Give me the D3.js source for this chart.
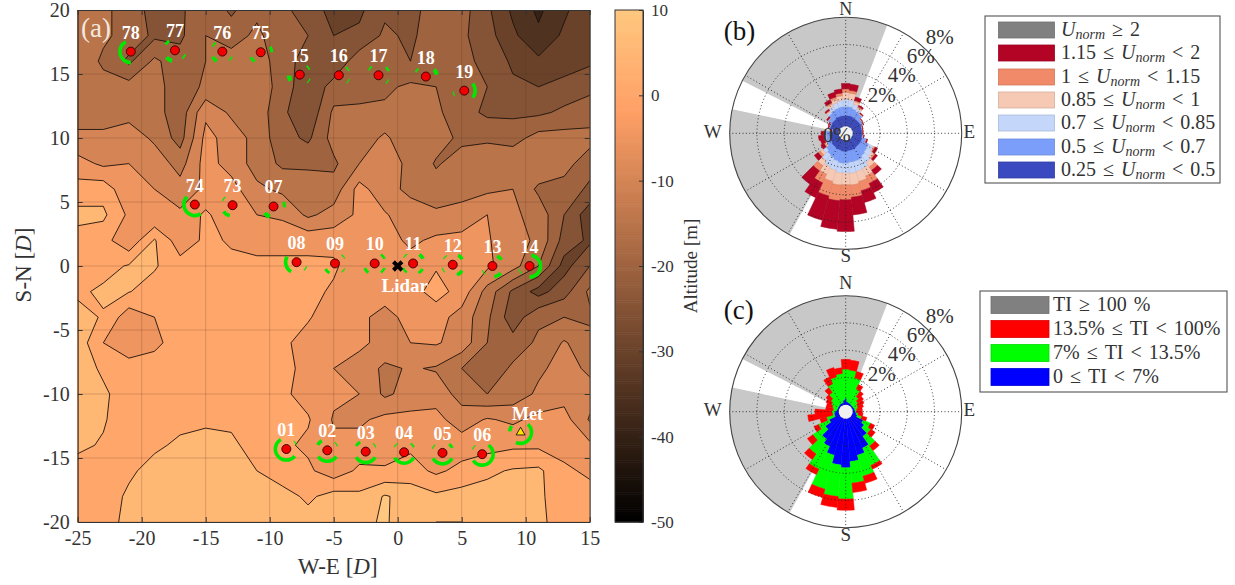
<!DOCTYPE html>
<html><head><meta charset="utf-8">
<script src="https://cdnjs.cloudflare.com/ajax/libs/d3/7.8.5/d3.min.js"></script>
<style>
html,body{margin:0;padding:0;background:#fff}
text{font-family:"Liberation Serif",serif;fill:#333}
</style></head><body>
<svg id="c" width="1235" height="585"></svg>
<script>
// ---------- terrain altitude (m), rows y = 20..-20 step 2, columns x = -25..15 step 2
const altitude = [
[-13,-14,-17,-22,-21,-16,-21,-16,-19,-22,-27,-26,-21,-22,-17,-18,-24,-31,-36,-31,-26],
[-12,-14,-17,-21,-21,-15,-17,-14,-18,-20,-25,-24,-19,-21,-17,-19,-23,-29,-34,-29,-26],
[-11,-16,-21,-14,-18,-15,-13,-13,-17,-23,-24,-17,-16,-20,-17,-19,-21,-26,-29,-28,-26],
[-15,-13,-13,-13,-18,-14,-12,-12,-17,-24,-18,-17,-16,-14,-15,-19,-20,-24,-25,-23,-21],
[-12,-12,-12,-13,-18,-6,-11,-12,-19,-24,-14,-14,-14,-13,-14,-18,-21,-21,-21,-19,-18],
[-9,-9,-7,-11,-17,-3.5,-7,-12,-18,-21,-13,-13,-9,-14,-13,-16,-16,-17,-13,-13,-13],
[-3,-6,-5,-7,-12,-3,-7,-12,-16,-16,-16,-10,-8,-11,-15.5,-13,-11,-11,-11,-13,-18],
[2,3,-4,-5,-8,-4,-3,-9,-11,-12,-13,-3,-8.5,-11,-13,-11,-11,-10,-16,-17,-21],
[6.5,6,-1,-5,-4,1,-4,-5,-6,-11,-8,-4,-4.5,-8,-9,-9,-5,-9,-12,-20,-28],
[3,2,-4,5.5,-3,1,-0.5,-1.5,-1.5,-1.5,-2,-3,-3,-6,-4,-3,-4.5,-8,-11,-22,-26],
[1,3,5.5,5.5,2,1,1,1,1,1,1,-4,-3,-3,-0.5,-2,-4,-8,-15,-27,-20],
[4,6,5.2,3,2,1,1,1,1,2,-1,-2,-3,-2,2,-2,-12,-21,-27,-22,-14],
[7,4.5,-3,0,2,1,1,1,1,0.5,-3,-4,-6.5,-3.5,-3,-7,-14,-23,-16,-15,-16],
[8,0,-3,-1,2,1,1,1,1,-2,-4,-4,-6.5,-5,-4.5,-7,-15,-18,-14,-9.5,-13],
[8,4,2,2,2,1,1,1,1,-1,-5,-7,-11,-9.5,-10.5,-15,-19,-14,-11,-8,-11],
[8,6,2,2,2,1,1,1,1,-2,-4,-5,-11,-8,-7,-12,-15,-13,-9,-7,-8],
[8,5.5,2,2,3.5,4,4,1,1,0.5,-5.5,-6,-3.5,-3.5,-3.5,-7.5,-4.5,-6,-3.5,-3,-10.5],
[6,4.5,2,4,6,7,6,3,1,-1,-4,-3,-2,-1,-3,-2.5,-2,-1,-1,-2,-4],
[3,3,4,7,8,8,8,5,2,1,-3,1,0.5,2,-1,1.5,4,5.5,6,1,-1],
[2,2,6,8,8,8,8,5.5,7,4,7,6,10.5,8,6,7,7,7,6,2,2],
[2,2,7,8,8,8,8,8,8,7,7,8,11,5,10,10,7,7,6,3,2]];
const contourLevels = d3.range(-40, 15, 5);
const xTicksMap = [-25,-20,-15,-10,-5,0,5,10,15];
const yTicksMap = [-20,-15,-10,-5,0,5,10,15,20];
const cbTicks = [-50,-40,-30,-20,-10,0,10];

// ---------- turbines: id, x, y [D]
const turbineIds = ["78","77","76","75","15","16","17","18","19","74","73","07","08","09","10","11","12","13","14","01","02","03","04","05","06"];
const turbineX = [-20.85,-17.4,-13.7,-10.7,-7.65,-4.6,-1.5,2.2,5.2,-15.85,-12.9,-9.7,-7.9,-4.9,-1.8,1.2,4.3,7.4,10.3,-8.7,-5.5,-2.5,0.5,3.5,6.6];
const turbineY = [16.75,16.85,16.75,16.7,14.95,14.9,14.9,14.8,13.7,4.8,4.75,4.65,0.3,0.2,0.2,0.2,0.1,0,0,-14.3,-14.4,-14.5,-14.55,-14.6,-14.7];
// green arcs per turbine: [bearing from, bearing to, width]
const turbineArcs = [
 [[180,333,3]],
 [[307,323,2.5],[200,226,3.5],[117,133,1.5]],
 [[302,318,1.5],[215,237,3],[122,138,1.5]],
 [[65,85,2.5],[218,238,2.5]],
 [[42,58,1.5],[242,260,3.5],[117,133,1]],
 [[45,61,1.5],[114,130,1]],
 [[302,318,1.5],[47,63,2],[117,133,1]],
 [[297,313,1.5],[55,75,3.5]],
 [[50,130,3],[245,260,1]],
 [[148,315,3]],
 [[297,313,1],[195,235,3]],
 [[70,90,2.5],[205,228,3.5]],
 [[210,300,3],[117,133,1]],
 [[215,235,2.5],[122,138,1],[42,58,1]],
 [[220,240,2.5],[120,140,2],[40,60,2]],
 [[125,145,2.5],[220,240,2],[40,60,3],[307,323,1]],
 [[128,152,3],[232,248,1],[35,55,3],[307,323,1]],
 [[130,170,3],[227,243,1],[25,55,3]],
 [[10,180,3],[232,248,1]],
 [[130,330,3],[47,63,1]],
 [[125,235,3],[305,325,3],[47,63,1]],
 [[120,240,3],[305,325,2.5],[47,63,1]],
 [[120,240,3],[302,318,1],[42,58,1.5]],
 [[120,240,3],[297,313,1],[42,58,2.5]],
 [[35,235,3],[302,318,1]]];
const metPos = [9.6,-13];
const metArcs = [[42,205,3],[280,300,3]];
const lidarPos = [0,0];

// ---------- wind roses: bins every 10 degrees, values in %
const bearings = d3.range(0,360,10);
const uDark  = [.8,.8,.8,.75,.75,.75,.75,.7,.7,.7,.7,.75,.75,.75,.75,.8,.8,.8,.85,.85,.8,.8,.75,.75,.7,.7,.7,.7,.5,.7,.7,.75,.75,.8,.8,.8];
const uMid   = [.65,.65,.55,.5,.45,.2,.15,.07,.04,.02,.1,.3,.6,.65,.75,.85,.85,.85,.86,.86,.8,.7,.65,.5,.35,.3,.25,.25,.02,.07,.12,.3,.5,.55,.6,.65];
const uLight = [.55,.5,.35,.2,.0,.0,.0,.0,.0,.0,.0,.0,.35,.45,.6,.7,.75,.8,.7,.7,.7,.7,.55,.3,.0,.0,.0,.0,.0,.0,.0,.0,.15,.3,.4,.45];
const uPink  = [.5,.5,.2,.1,.05,.02,.02,.01,.01,.01,.02,.03,.1,.2,.4,.6,.75,.85,.86,.9,.85,.6,.45,.2,.1,.05,.05,.02,.01,.01,.02,.03,.1,.2,.3,.35];
const uSalmon= [.25,.2,.1,.1,.02,.02,.01,.01,.01,.01,.01,.01,.07,.1,.3,.6,.7,.9,1.1,1.15,1.1,.7,.45,.2,.1,.05,.05,.02,.01,.01,.01,.02,.05,.1,.15,.2];
const uRed   = [.4,.45,.25,.1,.05,.02,.02,.01,.01,.01,.02,.07,.2,.18,.4,.75,.9,1.3,2.33,2.1,1.85,1.2,1.2,.35,.25,.3,.45,.3,.06,.06,.06,.1,.1,.25,.35,.3];
const tiBlue = [.47,.22,.17,.17,.12,.12,.12,.17,.17,.22,.27,.37,.91,1.15,1.69,2.43,2.79,3.16,3.6,3.41,2.79,2.3,1.94,1.32,.83,.34,.34,.27,.17,.12,.12,.12,.17,.17,.17,.34];
const tiGreen= [2.15,2.33,1.89,1.15,.71,.47,.35,.25,.15,.07,.15,.34,.59,.59,.86,1.42,1.6,1.59,2.3,2.33,2.58,1.84,1.34,1.11,.86,.62,.13,.24,.25,.39,.54,.71,1.03,1.57,1.96,1.96];
const tiRed  = [.71,.73,.49,.37,.49,.49,.49,.41,.39,.42,.34,.39,.34,.39,.42,.29,.54,.69,.82,.8,.63,.44,.49,.49,.37,.49,1.81,1.23,.54,.45,.42,.42,.44,.56,.71,.42];
const blockedSectors = [[297,381],[209,282]];
const ringValues = [2,4,6,8];
const spokeBearings = d3.range(0,360,30);

const uColors = ["#3a49bf","#7b9efb","#c4d6f9","#f6c9b5","#f08a68","#b40426"];
const uEdges  = ["#34429f","#6f8de0","#aebfe0","#dcb5a2","#d87c5c","#a00422"];
const tiColors = ["#0000ff","#00ff00","#ff0000"];

const uLegend = ["Unorm ≥ 2","1.15 ≤ Unorm < 2","1 ≤ Unorm < 1.15","0.85 ≤ Unorm < 1","0.7 ≤ Unorm < 0.85","0.5 ≤ Unorm < 0.7","0.25 ≤ Unorm < 0.5"];
const uLegendColors = ["#808080","#b40426","#f08a68","#f6c9b5","#c4d6f9","#7b9efb","#3a49bf"];
const tiLegend = ["TI ≥ 100 %","13.5% ≤ TI < 100%","7% ≤ TI < 13.5%","0 ≤ TI < 7%"];
const tiLegendColors = ["#808080","#ff0000","#00ff00","#0000ff"];

// ---------- helpers
const svg = d3.select("#c");
function copper(v){
  const t = Math.max(0,Math.min(1,(v+50)/60));
  return d3.rgb(Math.min(255,255*1.25*t),255*0.7812*t,255*0.4975*t)+"";
}
const x = d3.scaleLinear().domain([-25,15]).range([77.7,589.7]);
const y = d3.scaleLinear().domain([-20,20]).range([522,10]);
const rad = d=>d*Math.PI/180;

svg.append("defs").append("clipPath").attr("id","mapclip").append("rect")
  .attr("x",x(-25)).attr("y",y(20)).attr("width",x(15)-x(-25)).attr("height",y(-20)-y(20));

// ---------- map
const mapG = svg.append("g").attr("clip-path","url(#mapclip)");
const flat = altitude.flat();
const contours = d3.contours().size([21,21]).thresholds(contourLevels)(flat);
const path = d3.geoPath(d3.geoTransform({point(px,py){
  this.stream.point(x(-25+2*(px-0.5)), y(20-2*(py-0.5)));
}}));
mapG.append("rect").attr("x",x(-25)).attr("y",y(20)).attr("width",512).attr("height",512).attr("fill",copper(-40));
mapG.selectAll("path.c").data(contours).join("path").attr("class","c")
  .attr("d",path).attr("fill",d=>copper(d.value)).attr("stroke","#1c120c").attr("stroke-width",0.9).attr("stroke-linejoin","round");
mapG.selectAll("line.gx").data(xTicksMap).join("line").attr("x1",d=>x(d)).attr("x2",d=>x(d)).attr("y1",y(20)).attr("y2",y(-20)).attr("stroke","#4a3020").attr("stroke-opacity",.22);
mapG.selectAll("line.gy").data(yTicksMap).join("line").attr("y1",d=>y(d)).attr("y2",d=>y(d)).attr("x1",x(-25)).attr("x2",x(15)).attr("stroke","#4a3020").attr("stroke-opacity",.22);

// axes
function styleAxis(g){g.selectAll(".domain").attr("stroke","#333");g.selectAll("line").attr("stroke","#333");g.selectAll("text").attr("font-size",20).attr("fill","#333").attr("font-family","Liberation Serif");}
svg.append("g").attr("transform",`translate(0,${y(-20)})`).call(d3.axisBottom(x).tickValues(xTicksMap).tickSizeInner(-5).tickSizeOuter(0).tickPadding(9).tickFormat(String)).call(styleAxis);
svg.append("g").attr("transform",`translate(${x(-25)},0)`).call(d3.axisLeft(y).tickValues(yTicksMap).tickSizeInner(-5).tickSizeOuter(0).tickPadding(8).tickFormat(String)).call(styleAxis);
svg.append("g").attr("transform",`translate(0,${y(20)})`).call(d3.axisTop(x).tickValues(xTicksMap).tickSizeInner(-5).tickSizeOuter(0).tickFormat("")).call(styleAxis);
svg.append("g").attr("transform",`translate(${x(15)},0)`).call(d3.axisRight(y).tickValues(yTicksMap).tickSizeInner(-5).tickSizeOuter(0).tickFormat("")).call(styleAxis);

const xl = svg.append("text").attr("x",x(-5)+4).attr("y",574).attr("text-anchor","middle").attr("font-size",23);
xl.append("tspan").text("W-E [");xl.append("tspan").attr("font-style","italic").text("D");xl.append("tspan").text("]");
const yl = svg.append("text").attr("transform",`translate(31,${y(0)-1}) rotate(-90)`).attr("text-anchor","middle").attr("font-size",23);
yl.append("tspan").text("S-N [");yl.append("tspan").attr("font-style","italic").text("D");yl.append("tspan").text("]");
svg.append("text").attr("x",81).attr("y",37).attr("font-size",27).style("fill","#f2e8df").text("(a)");

// turbine arcs + markers
const arcGen = d3.arc();
const turbG = svg.append("g");
function drawArcs(cx,cy,list){
  list.forEach(a=>{
    const w=a[2]*1.2, pad=a[1]-a[0]<30?5:0;
    turbG.append("path").attr("transform",`translate(${cx},${cy})`)
      .attr("d",arcGen({innerRadius:11-w/2,outerRadius:11+w/2,startAngle:rad(a[0]-pad),endAngle:rad(a[1]+pad)}))
      .attr("fill","#00e800");
  });
}
turbineIds.forEach((id,i)=>{
  const cx=x(turbineX[i]),cy=y(turbineY[i]);
  drawArcs(cx,cy,turbineArcs[i]);
  turbG.append("circle").attr("cx",cx).attr("cy",cy).attr("r",4.5).attr("fill","#f00000").attr("stroke","#300").attr("stroke-width",0.9);
  turbG.append("text").attr("x",cx).attr("y",cy-13).attr("text-anchor","middle").attr("font-size",18).attr("font-weight","bold").style("fill","#fff").text(id);
});
drawArcs(x(metPos[0]),y(metPos[1]),metArcs);
turbG.append("path").attr("transform",`translate(${x(metPos[0])},${y(metPos[1])})`).attr("d",d3.symbol(d3.symbolTriangle,34)).attr("fill","#ffe600").attr("stroke","#000").attr("stroke-width",0.8);
turbG.append("text").attr("x",x(metPos[0])+7).attr("y",y(metPos[1])-12).attr("text-anchor","middle").attr("font-size",18).attr("font-weight","bold").style("fill","#fff").text("Met");
turbG.append("path").attr("transform",`translate(${x(lidarPos[0])},${y(lidarPos[1])}) rotate(45)`).attr("d",d3.symbol(d3.symbolCross,80)).attr("fill","#000");
turbG.append("text").attr("x",x(lidarPos[0])+7).attr("y",y(lidarPos[1])+26).attr("text-anchor","middle").attr("font-size",19).attr("font-weight","bold").style("fill","#fff").text("Lidar");

// ---------- colorbar
const cb = d3.scaleLinear().domain([-50,10]).range([522,10]);
svg.append("g").selectAll("rect").data(d3.range(-50,10,0.25)).join("rect")
  .attr("x",615).attr("width",28).attr("y",d=>cb(d+0.25)).attr("height",d=>cb(d)-cb(d+0.25)+0.6).attr("fill",d=>copper(d));
svg.append("rect").attr("x",615).attr("y",10).attr("width",28).attr("height",512).attr("fill","none").attr("stroke","#333");
svg.append("g").attr("transform","translate(643,0)").call(d3.axisRight(cb).tickValues(cbTicks).tickSizeInner(-4).tickSizeOuter(0).tickPadding(8).tickFormat(String)).call(styleAxis).call(g=>g.selectAll("text").attr("font-size",17));
svg.append("text").attr("transform",`translate(697,266) rotate(-90)`).attr("text-anchor","middle").attr("font-size",19).text("Altitude [m]");

// ---------- wind roses
const rr = d3.scaleLinear().domain([0,8]).range([7,116]);
function rose(cx,cy,series,colors,edges,showZero,labels,panel,northY){
  const g = svg.append("g").attr("transform",`translate(${cx},${cy})`);
  g.selectAll("path.s").data(blockedSectors).join("path").attr("class","s")
    .attr("d",d=>arcGen({innerRadius:0,outerRadius:rr(8),startAngle:rad(d[0]),endAngle:rad(d[1])})).attr("fill","#c8c8c8");
  const cum = bearings.map(()=>0);
  series.forEach((s,k)=>{
    g.append("g").selectAll("path").data(bearings).join("path").attr("d",(b,i)=>{
      const from=cum[i],to=from+s[i];cum[i]=to;
      return arcGen({innerRadius:rr(from),outerRadius:rr(to),startAngle:rad(b-5),endAngle:rad(b+5)});
    }).attr("fill",colors[k]).attr("stroke",edges[k]).attr("stroke-width",0.5);
  });
  g.append("circle").attr("r",rr(0)).attr("fill","#f0f0f0");
  g.selectAll("line.sp").data(spokeBearings).join("line")
    .attr("x1",b=>rr(0)*Math.sin(rad(b))).attr("y1",b=>-rr(0)*Math.cos(rad(b)))
    .attr("x2",b=>rr(8)*Math.sin(rad(b))).attr("y2",b=>-rr(8)*Math.cos(rad(b)))
    .attr("stroke","#222").attr("stroke-width",0.9).attr("stroke-dasharray","1 2.4");
  g.selectAll("circle.ring").data(ringValues.slice(0,3)).join("circle").attr("r",d=>rr(d)).attr("fill","none")
    .attr("stroke","#222").attr("stroke-width",0.9).attr("stroke-dasharray","1 2.4");
  g.append("circle").attr("r",rr(8)).attr("fill","none").attr("stroke","#444").attr("stroke-width",1.1);
  const dirs=[["S",0,rr(8)+8.5],["E",rr(8)+7.5,0],["W",-rr(8)-17,0]];
  dirs.forEach(d=>g.append("text").attr("x",d[1]).attr("y",d[2]).attr("text-anchor","middle").attr("dominant-baseline","middle").attr("font-size",19).text(d[0]));
  svg.append("text").attr("x",cx).attr("y",northY).attr("text-anchor","middle").attr("font-size",18).text("N");
  ringValues.forEach((v,i)=>g.append("text").attr("x",labels[i][0]).attr("y",labels[i][1]).attr("text-anchor","middle").attr("dominant-baseline","middle").attr("font-size",21).text(v+"%"));
  if(showZero) g.append("text").attr("x",-9).attr("y",4).attr("text-anchor","middle").attr("dominant-baseline","middle").attr("font-size",21).text("0%");
  svg.append("text").attr("x",cx-122).attr("y",cy-93).attr("font-size",27).style("fill","#111").text(panel);
}
const pctPos=[[36,-36],[56,-56],[75,-75],[94,-94]];
rose(845.7,133.3,[uDark,uMid,uLight,uPink,uSalmon,uRed],uColors,uEdges,true,pctPos,"(b)",15);
rose(845.7,411.7,[tiBlue,tiGreen,tiRed],tiColors,tiColors,false,pctPos,"(c)",289);

// ---------- legends
function addLabel(sel,str){
  const parts=str.split("Unorm");
  parts.forEach((p,i)=>{
    if(i>0){
      sel.append("tspan").attr("font-style","italic").text("U");
      sel.append("tspan").attr("font-style","italic").attr("font-size",14).attr("dy",3).text("norm");
      sel.append("tspan").attr("dy",-3).text(p.replace(/ /g,"\u00a0"));
    } else sel.append("tspan").text(p.replace(/ /g,"\u00a0"));
  });
}
function legend(bx,by,bw,bh,sx,sw,sh,tx,cys,labels,cols){
  svg.append("rect").attr("x",bx).attr("y",by).attr("width",bw).attr("height",bh).attr("fill","#fff").attr("stroke","#555").attr("stroke-width",1.1);
  labels.forEach((l,i)=>{
    svg.append("rect").attr("x",sx).attr("y",cys[i]-sh/2).attr("width",sw).attr("height",sh).attr("fill",cols[i]).attr("stroke",d3.rgb(cols[i]).darker(.4)).attr("stroke-width",.8);
    const t=svg.append("text").attr("x",tx).attr("y",cys[i]+6).attr("font-size",20).style("word-spacing","2px");
    addLabel(t,l);
  });
}
legend(985,16,235,167,998.5,56,16,1061,[30,53,77,100,123,147,170],uLegend,uLegendColors);
legend(980,291,247,101,991,58,17,1053,[305,329,353,377],tiLegend,tiLegendColors);
</script></body></html>
